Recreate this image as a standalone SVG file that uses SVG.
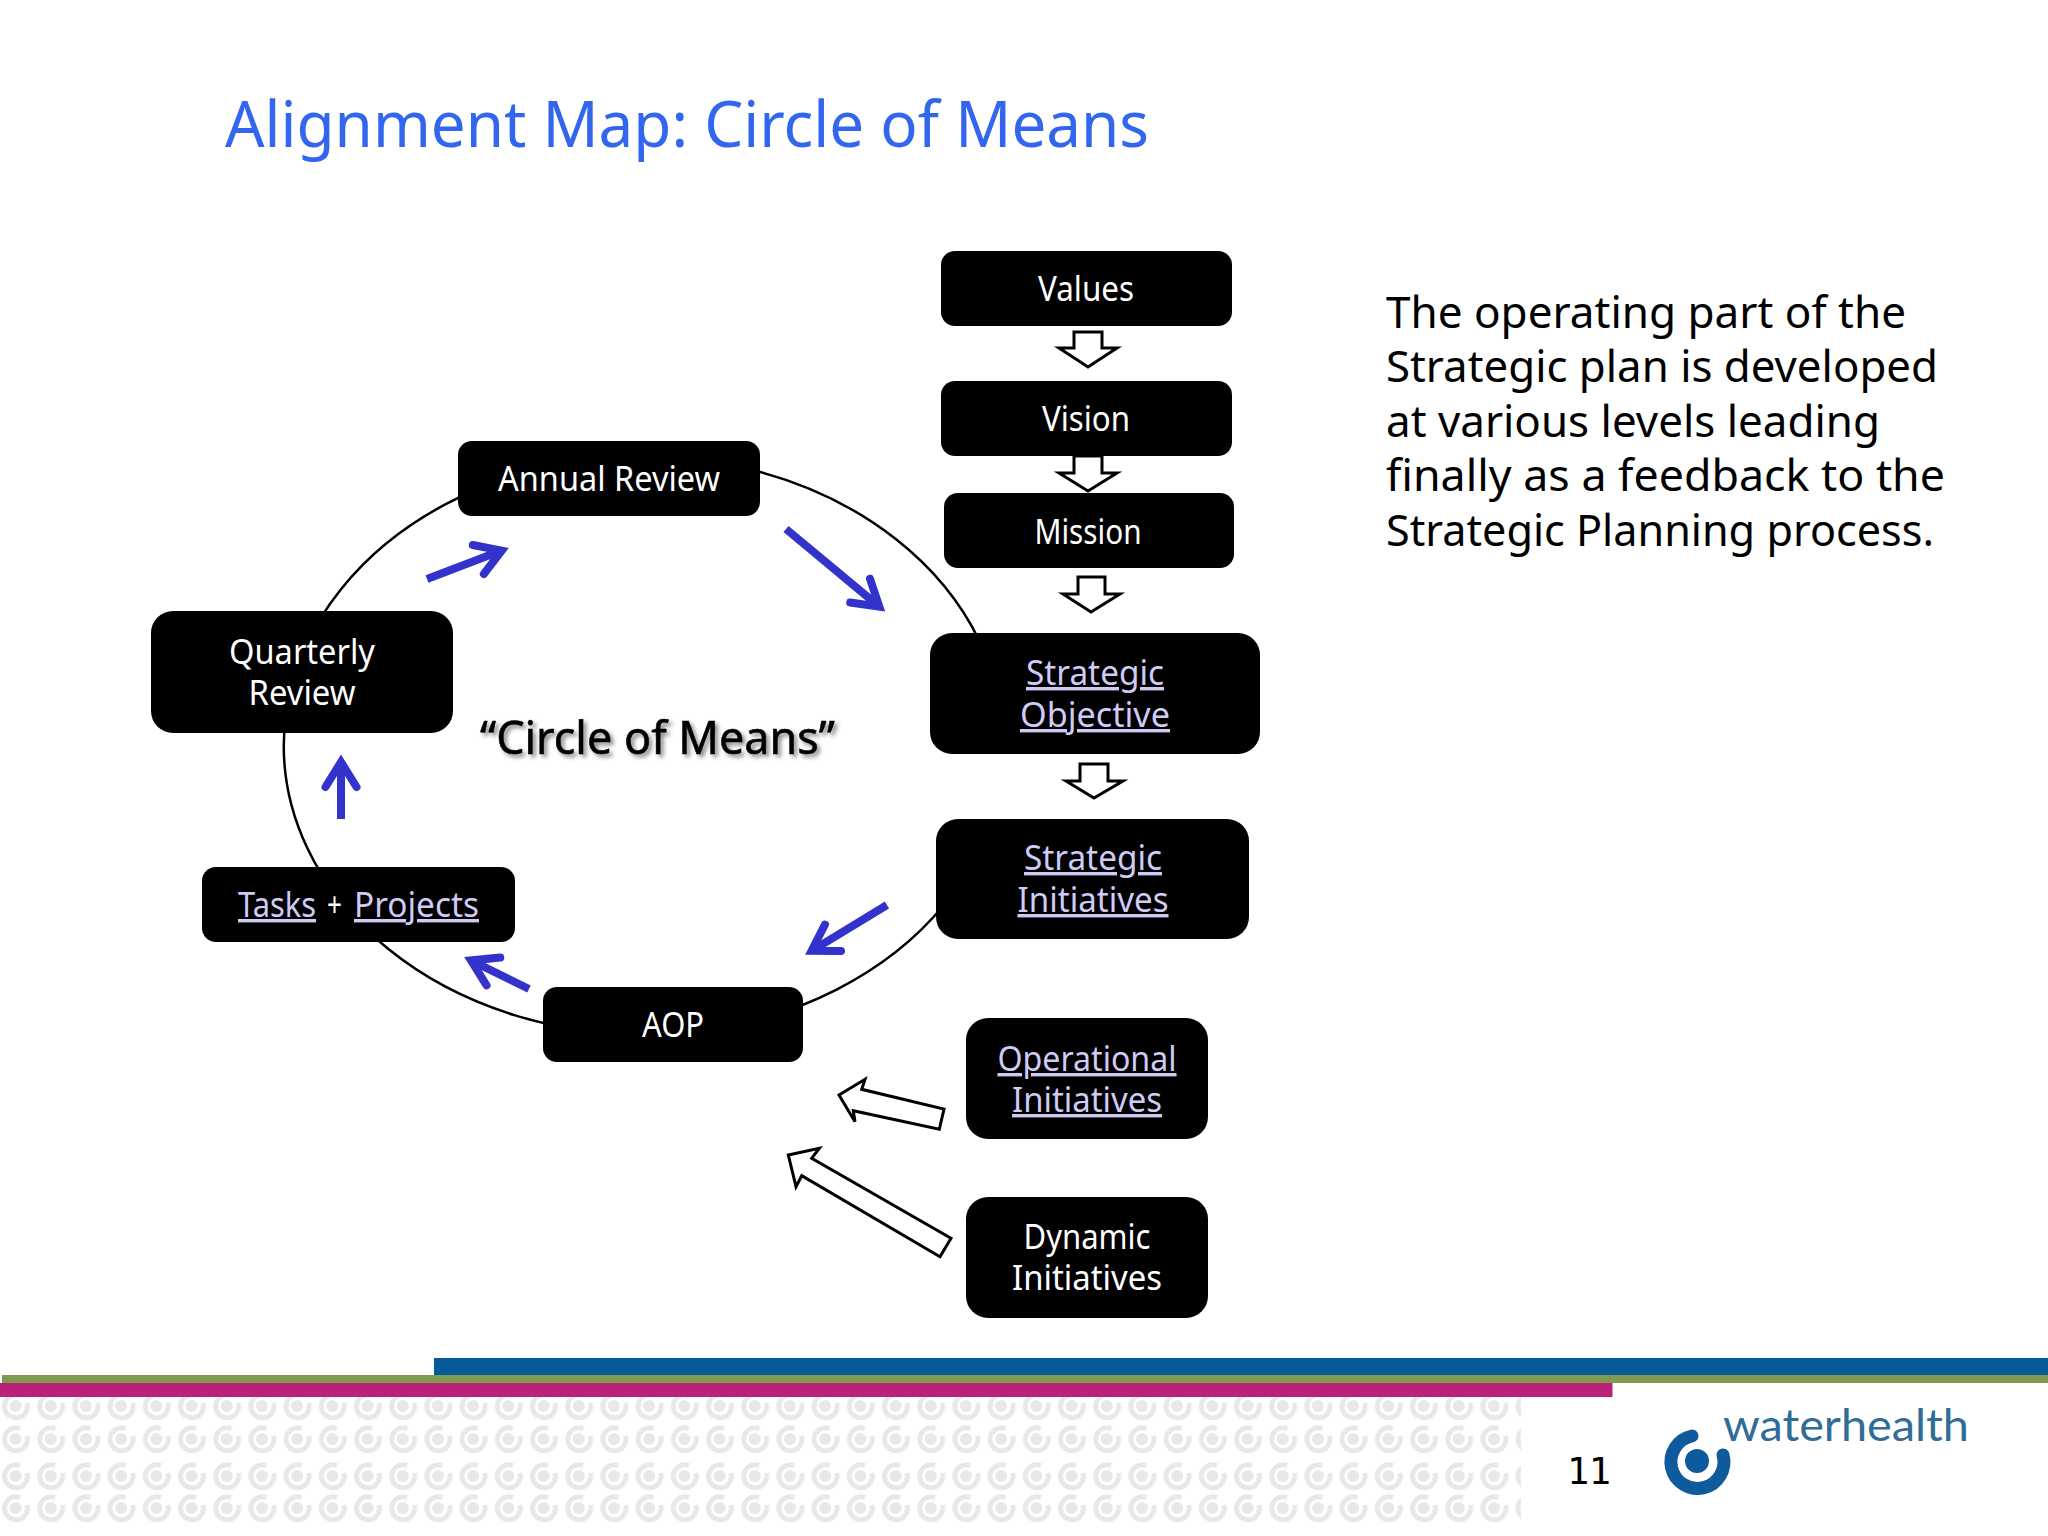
<svg xmlns="http://www.w3.org/2000/svg" width="2048" height="1536" viewBox="0 0 2048 1536">
<style>
text{font-family:"Noto Sans","DejaVu Sans",sans-serif}
.n{fill:#000}
.l{font-size:34px;fill:#fff;text-anchor:middle}
.u{fill:#cfcbf5;text-decoration:underline}
.h{fill:#fff;stroke:#000;stroke-width:3;stroke-linejoin:miter}
.b{fill:none;stroke:#3333cc;stroke-width:8;marker-end:url(#bh)}
.p{font-size:43px;fill:#000}
</style>
<defs>
<marker id="bh" markerUnits="userSpaceOnUse" markerWidth="80" markerHeight="60" refX="50" refY="30" orient="auto"><path d="M25 14.5L50 30L25 45.5" fill="none" stroke="#3333cc" stroke-width="8" stroke-linecap="round" stroke-linejoin="miter" stroke-miterlimit="10"/></marker>
<pattern id="sw" patternUnits="userSpaceOnUse" width="35.2" height="36">
<path d="M22 7.5 A11.5 11.5 0 1 0 29 15" fill="none" stroke="#e8e8ea" stroke-width="5"/><circle cx="17.6" cy="18" r="6" fill="#e8e8ea"/>
</pattern>
</defs>
<rect width="2048" height="1536" fill="#fff"/>
<text x="225" y="147" font-size="64" fill="#3366ee" textLength="924" lengthAdjust="spacingAndGlyphs">Alignment Map: Circle of Means</text>

<g id="footer">
<g transform="translate(-2,1388)"><rect width="1523" height="36" fill="url(#sw)"/></g>
<g transform="translate(-2,1421)"><rect width="1523" height="36" fill="url(#sw)"/></g>
<g transform="translate(-2,1458)"><rect width="1523" height="36" fill="url(#sw)"/></g>
<g transform="translate(-2,1490)"><rect width="1523" height="36" fill="url(#sw)"/></g>
<rect x="434" y="1358" width="1614" height="17" fill="#055a9a"/>
<rect x="2" y="1375" width="2046" height="8" fill="#7f9a4e"/>
<rect x="0" y="1383" width="1612.5" height="14" fill="#b92276"/>
<text x="1567" y="1484" font-size="37" fill="#000" style="font-family:'DejaVu Sans Mono',monospace" textLength="44">11</text>
<g id="logo">
<path d="M1692 1436 A26.5 26.5 0 1 0 1723 1455" fill="none" stroke="#0f5a9c" stroke-width="13" stroke-linecap="round"/>
<circle cx="1697" cy="1461" r="12" fill="#0f5a9c"/>
<text x="1723" y="1441" font-size="44" fill="#2f6d98" textLength="246" lengthAdjust="spacingAndGlyphs" style="font-family:Lato,sans-serif;font-weight:400">waterhealth</text>
</g>
</g>

<g id="connectors">
<path d="M979 640A360 289 0 1 0 944 905" fill="none" stroke="#000" stroke-width="2.5"/>
<path class="h" d="M1074 332H1102V348H1117L1088 367L1059 348H1074Z"/>
<path class="h" d="M1074 456H1102V473H1117L1088 491L1059 473H1074Z"/>
<path class="h" d="M1078 577H1105V594H1120L1091 612L1063 594H1078Z"/>
<path class="h" d="M1080 764H1108V781H1123L1094 798L1066 781H1080Z"/>
<path class="h" d="M839 1095L865 1079.3L861.7 1089.3L944 1109L939.3 1129.3L853.3 1110.7L855 1121.7Z"/>
<path class="h" d="M788.3 1155L819.3 1148.3L811.7 1158.3L951 1238.3L940 1256.7L801.7 1175.7L796 1186.7Z"/>
<path class="b" d="M427 579L501.7 550.6"/>
<path class="b" d="M786 529L879.3 606.6"/>
<path class="b" d="M887 905L811.6 950.8"/>
<path class="b" d="M529 989L471 960.4"/>
<path class="b" d="M341 819V762"/>
</g>

<g id="values"><rect class="n" x="941" y="251" width="291" height="75" rx="14"/><text class="l" x="1086" y="301" textLength="96" lengthAdjust="spacingAndGlyphs">Values</text></g>
<g id="vision"><rect class="n" x="941" y="381" width="291" height="75" rx="14"/><text class="l" x="1086" y="431" textLength="88" lengthAdjust="spacingAndGlyphs">Vision</text></g>
<g id="mission"><rect class="n" x="944" y="493" width="290" height="75" rx="14"/><text class="l" x="1088" y="544" textLength="107" lengthAdjust="spacingAndGlyphs">Mission</text></g>
<g id="strategic-objective"><rect class="n" x="930" y="633" width="330" height="121" rx="22"/><text class="l u" x="1095" y="685" textLength="138" lengthAdjust="spacingAndGlyphs">Strategic</text><text class="l u" x="1095" y="727" textLength="150" lengthAdjust="spacingAndGlyphs">Objective</text></g>
<g id="strategic-initiatives"><rect class="n" x="936" y="819" width="313" height="120" rx="22"/><text class="l u" x="1093" y="870" textLength="138" lengthAdjust="spacingAndGlyphs">Strategic</text><text class="l u" x="1093" y="912" textLength="151" lengthAdjust="spacingAndGlyphs">Initiatives</text></g>
<g id="operational-initiatives"><rect class="n" x="966" y="1018" width="242" height="121" rx="22"/><text class="l u" x="1087" y="1071" textLength="179" lengthAdjust="spacingAndGlyphs">Operational</text><text class="l u" x="1087" y="1112" textLength="150" lengthAdjust="spacingAndGlyphs">Initiatives</text></g>
<g id="dynamic-initiatives"><rect class="n" x="966" y="1197" width="242" height="121" rx="22"/><text class="l" x="1087" y="1249" textLength="127" lengthAdjust="spacingAndGlyphs">Dynamic</text><text class="l" x="1087" y="1290" textLength="150" lengthAdjust="spacingAndGlyphs">Initiatives</text></g>
<g id="aop"><rect class="n" x="543" y="987" width="260" height="75" rx="14"/><text class="l" x="673" y="1037" textLength="62" lengthAdjust="spacingAndGlyphs">AOP</text></g>
<g id="tasks-projects"><rect class="n" x="202" y="867" width="313" height="75" rx="14"/><text x="238" y="917" font-size="34" fill="#cfcbf5" text-decoration="underline" textLength="78" lengthAdjust="spacingAndGlyphs">Tasks</text><text x="327" y="917" font-size="34" fill="#fff" textLength="15" lengthAdjust="spacingAndGlyphs">+</text><text x="354" y="917" font-size="34" fill="#cfcbf5" text-decoration="underline" textLength="125" lengthAdjust="spacingAndGlyphs">Projects</text></g>
<g id="quarterly-review"><rect class="n" x="151" y="611" width="302" height="122" rx="22"/><text class="l" x="302" y="664" textLength="146" lengthAdjust="spacingAndGlyphs">Quarterly</text><text class="l" x="302" y="705" textLength="107" lengthAdjust="spacingAndGlyphs">Review</text></g>
<g id="annual-review"><rect class="n" x="458" y="441" width="302" height="75" rx="14"/><text class="l" x="609" y="491" textLength="222" lengthAdjust="spacingAndGlyphs">Annual Review</text></g>

<text x="480" y="754" font-size="46" fill="#000" stroke="#000" stroke-width="0.6" textLength="355" lengthAdjust="spacingAndGlyphs" style="filter:drop-shadow(3px 3px 2px #888)">“Circle of Means”</text>

<g id="description">
<text class="p" x="1386" y="328" textLength="520" lengthAdjust="spacingAndGlyphs">The operating part of the</text>
<text class="p" x="1386" y="382" textLength="552" lengthAdjust="spacingAndGlyphs">Strategic plan is developed</text>
<text class="p" x="1386" y="437" textLength="494" lengthAdjust="spacingAndGlyphs">at various levels leading</text>
<text class="p" x="1386" y="491" textLength="559" lengthAdjust="spacingAndGlyphs">finally as a feedback to the</text>
<text class="p" x="1386" y="546" textLength="548" lengthAdjust="spacingAndGlyphs">Strategic Planning process.</text>
</g>
</svg>
